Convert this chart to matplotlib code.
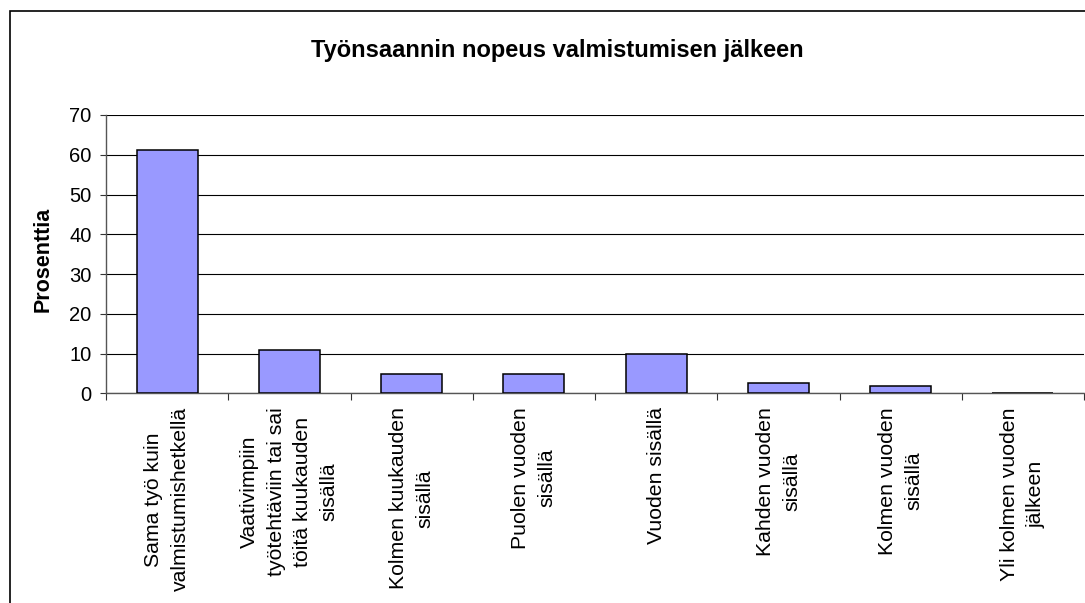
import matplotlib
matplotlib.use("Agg")
import matplotlib.pyplot as plt
from matplotlib.patches import Rectangle

plt.rcParams['font.family'] = ['Liberation Sans', 'DejaVu Sans']

title = "Työnsaannin nopeus valmistumisen jälkeen"
ylabel = "Prosenttia"
categories = [
    "Sama työ kuin\nvalmistumishetkellä",
    "Vaativimpiin\ntyötehtäviin tai sai\ntöitä kuukauden\nsisällä",
    "Kolmen kuukauden\nsisällä",
    "Puolen vuoden\nsisällä",
    "Vuoden sisällä",
    "Kahden vuoden\nsisällä",
    "Kolmen vuoden\nsisällä",
    "Yli kolmen vuoden\njälkeen",
]
values = [61.1, 10.8, 4.8, 4.8, 10.0, 2.7, 1.9, 0.0]
yticks = [0, 10, 20, 30, 40, 50, 60, 70]

W, H = 1085, 603
fig = plt.figure(figsize=(W / 100, H / 100), dpi=100)
fig.patch.set_facecolor('white')

# outer chart border
fig.add_artist(Rectangle((10 / W, -0.1), 1.2, (1 - 11 / H) + 0.1,
                         transform=fig.transFigure, fill=False,
                         edgecolor='black', linewidth=1.2))

ax = fig.add_axes([106 / W, 1 - 393.3 / H, 978 / W, (393.3 - 115) / H])
x = list(range(len(categories)))
ax.bar(x, values, width=0.5, color='#9999FF', edgecolor='black',
       linewidth=1.1, zorder=3)

ax.set_xlim(-0.5, len(categories) - 0.5)
ax.set_ylim(0, 70)
ax.set_yticks(yticks)
ax.set_yticklabels([str(t) for t in yticks], fontsize=14.5)
ax.yaxis.grid(True, color='black', linewidth=0.8, zorder=0)
ax.set_axisbelow(True)

ax.set_xticks([i + 0.5 for i in range(-1, len(categories))], minor=False)
ax.set_xticklabels([])
ax.set_xticks(x, minor=True)
ax.set_xticklabels(categories, minor=True, rotation=90, fontsize=15.3,
                   ha='center', va='top', multialignment='center',
                   linespacing=1.5)
ax.tick_params(axis='x', which='minor', length=0, pad=10)
ax.tick_params(axis='x', which='major', length=5, width=0.8, color='#333333')
ax.tick_params(axis='y', length=4.5, width=0.8, pad=6, color='#333333')

for s in ['top', 'right']:
    ax.spines[s].set_visible(False)
for s in ['left', 'bottom']:
    ax.spines[s].set_color('#555555')
    ax.spines[s].set_linewidth(1.0)

ax.set_ylabel(ylabel, fontsize=15.5, fontweight='bold')
ax.yaxis.set_label_coords(-0.054, 0.48)

fig.text(557 / W, 1 - 57 / H, title, fontsize=17, fontweight='bold',
         ha='center', va='baseline')

fig.savefig('out.png', dpi=100)
